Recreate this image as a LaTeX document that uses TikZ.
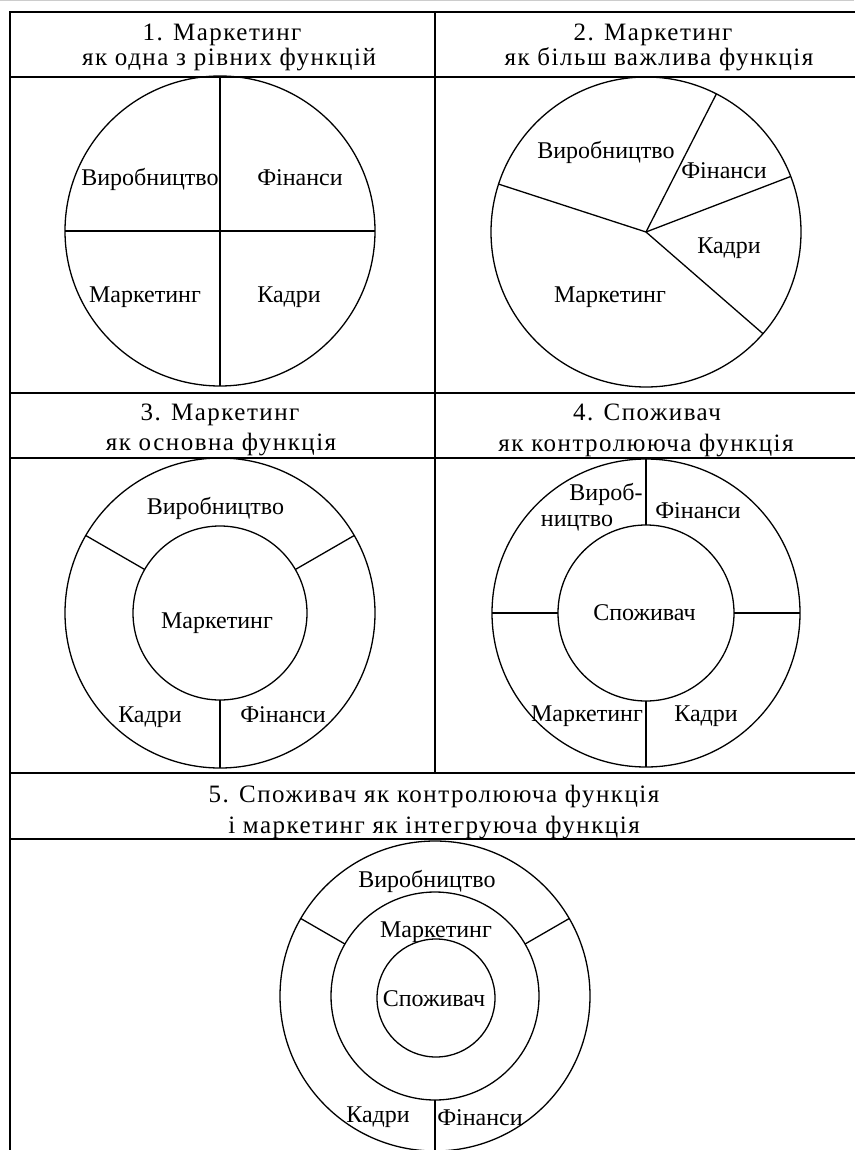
\documentclass[tikz,border=0pt]{standalone}
\usepackage{fontspec}
\setmainfont{Liberation Serif}
\newfontfamily\hdrfont[LetterSpace=6]{Liberation Serif}
\begin{document}
\begin{tikzpicture}[x=1pt,y=-1pt,
  grid/.style={line width=2pt},
  ring/.style={draw, circle, line width=1.3pt, inner sep=0pt, outer sep=0pt},
  spoke/.style={line width=1.3pt},
  lbl/.style={font=\fontsize{24}{28}\selectfont, inner sep=0pt, anchor=base},
  hdr/.style={font=\hdrfont\fontsize{25}{30}\selectfont, inner sep=0pt, anchor=base}]
\useasboundingbox (0,0) rectangle (854,1150);
\fill[white] (0,0) rectangle (854,1150);
\draw[line width=1.4pt, gray!40] (0,0.7) -- (854,0.7);
% table
\draw[grid] (856,12) -- (10,12) -- (10,1152);
\draw[grid] (435,12) -- (435,773);
\foreach \yy in {77,393,458,773,839}
  \draw[grid] (10,\yy) -- (856,\yy);
% headers
\node[hdr] (h1a) at (222,41) {1. Маркетинг};
\node[hdr] (h1b) at (229,66) {як одна з рівних функцій};
\node[hdr] (h2a) at (653,41) {2. Маркетинг};
\node[hdr] (h2b) at (659,66) {як більш важлива функція};
\node[hdr] (h3a) at (220,420) {3. Маркетинг};
\node[hdr] (h3b) at (221,450) {як основна функція};
\node[hdr] (h4a) at (647,420) {4. Споживач};
\node[hdr] (h4b) at (646,451) {як контролююча функція};
\node[hdr] (h5a) at (434,802) {5. Споживач як контролююча функція};
\node[hdr] (h5b) at (434,833) {і маркетинг як інтегруюча функція};
% panel 1
\node[ring, minimum size=310pt] (c1) at (220,231) {};
\draw[spoke] (c1.north) -- (c1.south);
\draw[spoke] (c1.west) -- (c1.east);
\node[lbl] (p1v) at (150,186) {Виробництво};
\node[lbl] (p1f) at (300,186) {Фінанси};
\node[lbl] (p1m) at (145,302) {Маркетинг};
\node[lbl] (p1k) at (289,302) {Кадри};
% panel 2
\node[ring, minimum size=310pt] (c2) at (646,232) {};
\draw[spoke] (c2.center) -- (c2.162);
\draw[spoke] (c2.center) -- (c2.63.3);
\draw[spoke] (c2.center) -- (c2.21.9);
\draw[spoke] (c2.center) -- (c2.-41);
\node[lbl] (p2v) at (606,159) {Виробництво};
\node[lbl] (p2f) at (724,179) {Фінанси};
\node[lbl] (p2k) at (729,254) {Кадри};
\node[lbl] (p2m) at (610,302) {Маркетинг};
% panel 3
\node[ring, minimum size=310pt] (c3o) at (220,613) {};
\node[ring, minimum size=174pt] (c3i) at (220,613) {};
\draw[spoke] (c3i.150) -- (c3o.150);
\draw[spoke] (c3i.30) -- (c3o.30);
\draw[spoke] (c3i.270) -- (c3o.270);
\node[lbl] (p3v) at (215.5,514) {Виробництво};
\node[lbl] (p3m) at (217,628) {Маркетинг};
\node[lbl] (p3k) at (150,722) {Кадри};
\node[lbl] (p3f) at (283,722) {Фінанси};
% panel 4
\node[ring, minimum size=308pt] (c4o) at (646,613) {};
\node[ring, minimum size=176pt] (c4i) at (646,613) {};
\draw[spoke] (c4i.90) -- (c4o.90);
\draw[spoke] (c4i.180) -- (c4o.180);
\draw[spoke] (c4i.0) -- (c4o.0);
\draw[spoke] (c4i.270) -- (c4o.270);
\node[lbl] (p4v1) at (606,500) {Вироб-};
\node[lbl] (p4v2) at (577,526) {ництво};
\node[lbl] (p4f) at (698,518) {Фінанси};
\node[lbl] (p4s) at (644.5,620) {Споживач};
\node[lbl] (p4m) at (587,721) {Маркетинг};
\node[lbl] (p4k) at (706,721) {Кадри};
% panel 5
\node[ring, minimum size=310pt] (c5o) at (435,996) {};
\node[ring, minimum size=208pt] (c5m) at (435,996) {};
\node[ring, minimum size=118pt] (c5i) at (436,998) {};
\draw[spoke] (c5m.150) -- (c5o.150);
\draw[spoke] (c5m.30) -- (c5o.30);
\draw[spoke] (c5m.270) -- (c5o.270);
\node[lbl] (p5v) at (427,887) {Виробництво};
\node[lbl] (p5m) at (436,937) {Маркетинг};
\node[lbl] (p5s) at (434,1006) {Споживач};
\node[lbl] (p5k) at (378,1122) {Кадри};
\node[lbl] (p5f) at (480,1125) {Фінанси};
\end{tikzpicture}
\end{document}
